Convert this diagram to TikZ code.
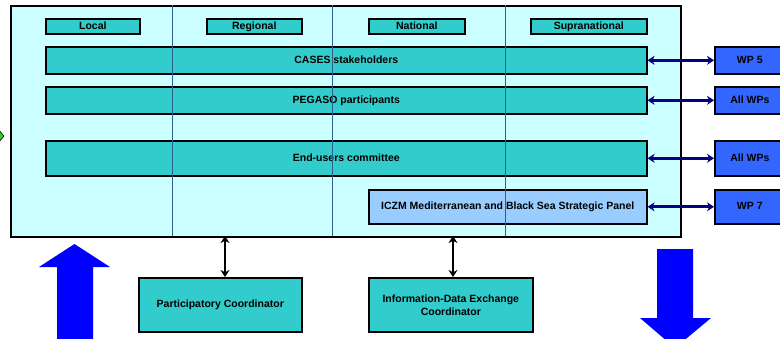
\documentclass[tikz,border=0pt]{standalone}
\usepackage{fontspec}
\setmainfont{Liberation Sans}
\usetikzlibrary{arrows.meta}
\definecolor{bgcyan}{HTML}{CCFFFF}
\definecolor{teal1}{HTML}{33CCCC}
\definecolor{wpblue}{HTML}{3366FF}
\definecolor{panelblue}{HTML}{99CCFF}
\definecolor{navy1}{HTML}{000080}
\definecolor{linecol}{HTML}{2F5F8F}
\definecolor{bigblue}{HTML}{0000FF}
\definecolor{green1}{HTML}{33CC33}
\tikzset{
  box/.style={draw=black, line width=1.6pt, fill=teal1, inner sep=0pt, text height=7.6pt, text depth=2pt, font=\fontsize{10.5}{13}\selectfont\bfseries},
  wpbox/.style={box, fill=wpblue},
  link/.style={navy1, line width=2.8pt, {Stealth[length=7pt,width=9pt]}-{Stealth[length=7pt,width=9pt]}},
  blink/.style={black, line width=2.8pt, {Stealth[length=7pt,width=9pt]}-{Stealth[length=7pt,width=9pt]}},
  vline/.style={linecol, line width=0.8pt}
}
\begin{document}
\begin{tikzpicture}[x=1pt,y=-1pt]
\useasboundingbox (0,0) rectangle (780,338);
\clip (0,0) rectangle (780,338);
% outer frame
\node[draw=black, line width=1.6pt, fill=bgcyan, minimum width=670pt, minimum height=231pt, inner sep=0pt, anchor=north west] (frame) at (10,5) {};
% header boxes
\node[box, minimum width=94pt, minimum height=15pt, anchor=north west] (local) at (45,18) {Local};
\node[box, minimum width=95pt, minimum height=15pt, anchor=north west] (regional) at (206,18) {Regional};
\node[box, minimum width=96pt, minimum height=15pt, anchor=north west] (national) at (368,18) {National};
\node[box, minimum width=116pt, minimum height=15pt, anchor=north west] (supra) at (530,18) {Supranational};
% bars
\node[box, minimum width=601pt, minimum height=27pt, anchor=north west] (cases) at (45,46) {CASES stakeholders};
\node[box, minimum width=601pt, minimum height=27pt, anchor=north west] (pegaso) at (45,86) {PEGASO participants};
\node[box, minimum width=601pt, minimum height=35pt, anchor=north west] (endusers) at (45,140) {End-users committee};
\node[box, fill=panelblue, minimum width=278pt, minimum height=34pt, anchor=north west] (iczm) at (368,189) {ICZM Mediterranean and Black Sea Strategic Panel};
% vertical lines
\draw[vline] (172,5) -- (172,236);
\draw[vline] (332,5) -- (332,236);
\draw[vline] (505,5) -- (505,236);
% WP boxes
\node[wpbox, minimum width=70pt, minimum height=27pt, anchor=north west] (wp5) at (714,46) {WP 5};
\node[wpbox, minimum width=70pt, minimum height=27pt, anchor=north west] (allwp1) at (714,86) {All WPs};
\node[wpbox, minimum width=70pt, minimum height=35pt, anchor=north west] (allwp2) at (714,140) {All WPs};
\node[wpbox, minimum width=70pt, minimum height=34pt, anchor=north west] (wp7) at (714,189) {WP 7};
\draw[link] (cases.east) -- (wp5.west);
\draw[link] (pegaso.east) -- (allwp1.west);
\draw[link] (endusers.east) -- (allwp2.west);
\draw[link] (iczm.east) -- (wp7.west);
% coordinators
\node[box, minimum width=163pt, minimum height=54pt, anchor=north west] (partc) at (138,277) {Participatory Coordinator};
\node[box, text height=, text depth=, minimum width=164pt, minimum height=54pt, anchor=north west, align=center] (infoc) at (368,277) {Information-Data Exchange\\Coordinator};
\coordinate (f1) at (225,236);
\coordinate (f2) at (453,236);
\draw[blink] (f1) -- (partc.north -| f1);
\draw[blink] (f2) -- (infoc.north -| f2);
% big arrows
\fill[bigblue] (57,345) -- (57,267) -- (39,267) -- (74.5,244) -- (110,267) -- (93,267) -- (93,345) -- cycle;
\fill[bigblue] (657,249) -- (693,249) -- (693,318) -- (711,318) -- (675,348) -- (640,318) -- (657,318) -- cycle;
% green marker
\draw[black, fill=green1, line width=0.6pt] (-2,129) -- (4,136) -- (-2,143) -- (-8,136) -- cycle;
\end{tikzpicture}
\end{document}
